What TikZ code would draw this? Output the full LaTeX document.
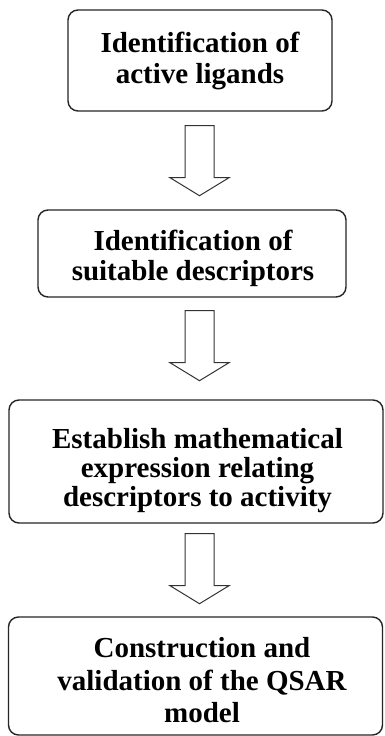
\documentclass[tikz,border=0pt]{standalone}
\usepackage{fontspec}
\setmainfont{Liberation Serif}
\usetikzlibrary{calc}
\tikzset{
  stepbox/.style={draw=black!85, line width=1.4pt, rounded corners=10pt, inner sep=0pt},
  steptext/.style={align=center, inner sep=0pt, font=\bfseries\fontsize{29}{31}\selectfont},
  blockarrow/.style={draw=black!80, line width=1pt, fill=white, line join=miter}
}
\begin{document}
\begin{tikzpicture}[x=1pt,y=-1pt]
\useasboundingbox[fill=white] (0,0) rectangle (384,736);
% boxes
\node[stepbox, minimum width=264pt, minimum height=101pt] (b1) at (200,60.5) {};
\node[stepbox, minimum width=308pt, minimum height=87pt] (b2) at (192,253.5) {};
\node[stepbox, minimum width=374pt, minimum height=123pt] (b3) at (196,461.5) {};
\node[stepbox, minimum width=374pt, minimum height=118pt] (b4) at (195.5,676) {};
% texts
\node[steptext] (t1) at (200,61) {Identification of\\active ligands};
\node[steptext, font=\bfseries\fontsize{29}{30}\selectfont] (t2) at (193,258) {Identification of\\suitable descriptors};
\node[steptext, font=\bfseries\fontsize{29}{29}\selectfont] (t3) at (197.5,471) {Establish mathematical\\expression relating\\descriptors to activity};
\node[steptext, font=\bfseries\fontsize{29}{32.5}\selectfont] (t4) at (202,680.5) {Construction and\\validation of the QSAR\\model};
% block arrows
\coordinate (a1) at ($(b1.south)+(-0.5,14)$);
\coordinate (a2) at ($(b2.south)+(7.5,13)$);
\coordinate (a3) at ($(b3.south)+(3.5,10)$);
\foreach \a in {a1,a2,a3}{
  \draw[blockarrow] (\a) ++(-14.5,0) -- ++(0,52) -- ++(-15,0) -- ++(29.5,18) -- ++(29.5,-18) -- ++(-15,0) -- ++(0,-52) -- cycle;
}
\end{tikzpicture}
\end{document}
